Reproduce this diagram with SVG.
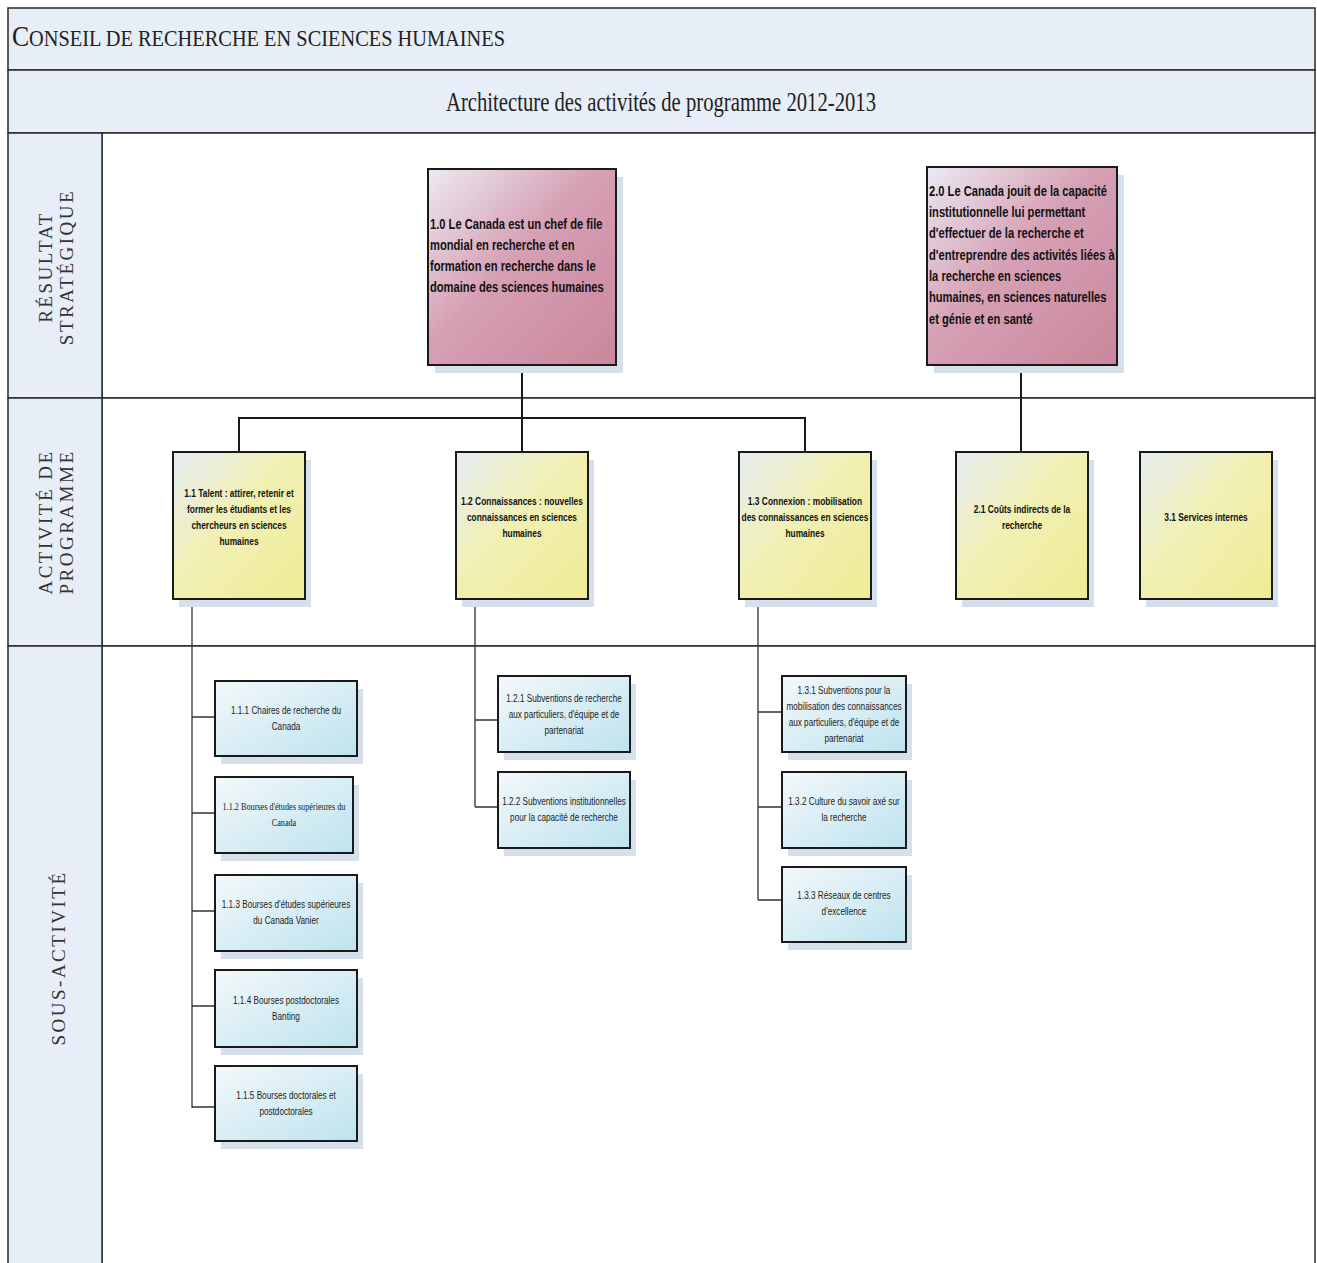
<svg xmlns="http://www.w3.org/2000/svg" width="1317" height="1263" viewBox="0 0 1317 1263">
<defs>
<linearGradient id="gPink" x1="0" y1="0" x2="1" y2="1">
<stop offset="0" stop-color="#eceaf2"/><stop offset="0.45" stop-color="#d6a0b4"/><stop offset="1" stop-color="#ca869d"/>
</linearGradient>
<linearGradient id="gYel" x1="0" y1="0" x2="1" y2="1">
<stop offset="0" stop-color="#e6edf3"/><stop offset="0.45" stop-color="#f1f0b4"/><stop offset="1" stop-color="#efeb94"/>
</linearGradient>
<linearGradient id="gBlue" x1="0" y1="0" x2="1" y2="1">
<stop offset="0" stop-color="#f4f8fa"/><stop offset="1" stop-color="#bde3ef"/>
</linearGradient>
<style>
.hdr{fill:#e7eef7;stroke:#2a2a2a;stroke-width:1.5}
.cell{fill:#ffffff;stroke:#2a2a2a;stroke-width:1.5}
.shadow{fill:#d6dfec}
.box{stroke:#1a1a1a;stroke-width:2}
.pink{fill:url(#gPink)}
.yel{fill:url(#gYel)}
.blue{fill:url(#gBlue)}
.serif{font-family:"Liberation Serif","Times New Roman",serif;fill:#222}
.lbl{font-family:"Liberation Serif","Times New Roman",serif;font-size:19px;fill:#333;letter-spacing:2.5px;text-anchor:middle}
.nar{font-family:"Liberation Sans",Arial,sans-serif;fill:#111}
.big{font-size:14.5px;font-weight:bold}
.mid{font-size:10.5px;font-weight:bold;text-anchor:middle}
.sm{font-size:10.5px;text-anchor:middle;fill:#222}
.conn{fill:none;stroke:#1a1a1a;stroke-width:2}
.conn2{fill:none;stroke:#333;stroke-width:1.3}
</style>
</defs>

<g id="frame">
<rect class="hdr" x="8" y="8" width="1307" height="62"/>
<rect class="hdr" x="8" y="70" width="1307" height="63"/>
<rect class="cell" x="102" y="133" width="1213" height="265"/>
<rect class="cell" x="102" y="398" width="1213" height="248"/>
<rect class="cell" x="102" y="646" width="1213" height="620"/>
<rect class="hdr" x="8" y="133" width="94" height="265"/>
<rect class="hdr" x="8" y="398" width="94" height="248"/>
<rect class="hdr" x="8" y="646" width="94" height="620"/>
<text class="serif" x="12" y="46" textLength="493" lengthAdjust="spacingAndGlyphs"><tspan font-size="29">C</tspan><tspan font-size="23">ONSEIL DE RECHERCHE EN SCIENCES HUMAINES</tspan></text>
<text class="serif" x="661" y="111" font-size="27" text-anchor="middle" textLength="430" lengthAdjust="spacingAndGlyphs">Architecture des activités de programme 2012-2013</text>
<text class="lbl" transform="translate(52,267) rotate(-90)">RÉSULTAT</text>
<text class="lbl" transform="translate(73,267) rotate(-90)">STRATÉGIQUE</text>
<text class="lbl" transform="translate(52,522) rotate(-90)">ACTIVITÉ DE</text>
<text class="lbl" transform="translate(73,522) rotate(-90)">PROGRAMME</text>
<text class="lbl" transform="translate(65,958) rotate(-90)">SOUS-ACTIVITÉ</text>
</g>

<g id="connectors">
<path class="conn" d="M522 365 V452 M239 452 V418 H805 V452 M1021 365 V452"/>
<path class="conn2" d="M192 599 V1108 M192 717 H215 M192 813 H215 M192 911 H215 M192 1006 H215 M192 1107 H215"/>
<path class="conn2" d="M475 599 V807 M475 720 H498 M475 807 H498"/>
<path class="conn2" d="M758 599 V900 M758 712 H782 M758 807 H782 M758 900 H782"/>
</g>

<g id="n1_0">
<rect class="shadow" x="435" y="177" width="188" height="196"/>
<rect class="box pink" x="428" y="169" width="188" height="196"/>
<text class="nar big" transform="translate(98.9,0) scale(0.77,1)"><tspan x="430" y="229">1.0 Le Canada est un chef de file</tspan><tspan x="430" y="250">mondial en recherche et en</tspan><tspan x="430" y="271">formation en recherche dans le</tspan><tspan x="430" y="292">domaine des sciences humaines</tspan></text>
</g>
<g id="n2_0">
<rect class="shadow" x="934" y="175" width="190" height="198"/>
<rect class="box pink" x="927" y="167" width="190" height="198"/>
<text class="nar big" transform="translate(213.67,0) scale(0.77,1)"><tspan x="929" y="196">2.0 Le Canada jouit de la capacité</tspan><tspan x="929" y="217">institutionnelle lui permettant</tspan><tspan x="929" y="238">d'effectuer de la recherche et</tspan><tspan x="929" y="260">d'entreprendre des activités liées à</tspan><tspan x="929" y="281">la recherche en sciences</tspan><tspan x="929" y="302">humaines, en sciences naturelles</tspan><tspan x="929" y="324">et génie et en santé</tspan></text>
</g>

<g id="n1_1">
<rect class="shadow" x="179" y="460" width="132" height="147"/>
<rect class="box yel" x="173" y="452" width="132" height="147"/>
<text class="nar mid" transform="translate(47.8,0) scale(0.8,1)"><tspan x="239" y="497">1.1 Talent : attirer, retenir et</tspan><tspan x="239" y="513">former les étudiants et les</tspan><tspan x="239" y="529">chercheurs en sciences</tspan><tspan x="239" y="545">humaines</tspan></text>
</g>
<g id="n1_2">
<rect class="shadow" x="462" y="460" width="132" height="147"/>
<rect class="box yel" x="456" y="452" width="132" height="147"/>
<text class="nar mid" transform="translate(104.4,0) scale(0.8,1)"><tspan x="522" y="505">1.2 Connaissances : nouvelles</tspan><tspan x="522" y="521">connaissances en sciences</tspan><tspan x="522" y="537">humaines</tspan></text>
</g>
<g id="n1_3">
<rect class="shadow" x="745" y="460" width="132" height="147"/>
<rect class="box yel" x="739" y="452" width="132" height="147"/>
<text class="nar mid" transform="translate(161,0) scale(0.8,1)"><tspan x="805" y="505">1.3 Connexion : mobilisation</tspan><tspan x="805" y="521">des connaissances en sciences</tspan><tspan x="805" y="537">humaines</tspan></text>
</g>
<g id="n2_1">
<rect class="shadow" x="962" y="460" width="132" height="147"/>
<rect class="box yel" x="956" y="452" width="132" height="147"/>
<text class="nar mid" transform="translate(204.4,0) scale(0.8,1)"><tspan x="1022" y="513">2.1 Coûts indirects de la</tspan><tspan x="1022" y="529">recherche</tspan></text>
</g>
<g id="n3_1">
<rect class="shadow" x="1146" y="460" width="132" height="147"/>
<rect class="box yel" x="1140" y="452" width="132" height="147"/>
<text class="nar mid" transform="translate(241.2,0) scale(0.8,1)"><tspan x="1206" y="521">3.1 Services internes</tspan></text>
</g>

<g id="n1_1_1">
<rect class="shadow" x="221" y="689" width="142" height="75"/>
<rect class="box blue" x="215" y="681" width="142" height="75"/>
<text class="nar sm" transform="translate(62.92,0) scale(0.78,1)"><tspan x="286" y="714">1.1.1 Chaires de recherche du</tspan><tspan x="286" y="730">Canada</tspan></text>
</g>
<g id="n1_1_2">
<rect class="shadow" x="221" y="785" width="138" height="76"/>
<rect class="box blue" x="215" y="777" width="138" height="76"/>
<text class="serif sm" font-size="10.5" transform="translate(62.48,0) scale(0.78,1)"><tspan x="284" y="810">1.1.2 Bourses d'études supérieures du</tspan><tspan x="284" y="826">Canada</tspan></text>
</g>
<g id="n1_1_3">
<rect class="shadow" x="221" y="883" width="142" height="76"/>
<rect class="box blue" x="215" y="875" width="142" height="76"/>
<text class="nar sm" transform="translate(62.92,0) scale(0.78,1)"><tspan x="286" y="908">1.1.3 Bourses d'études supérieures</tspan><tspan x="286" y="924">du Canada Vanier</tspan></text>
</g>
<g id="n1_1_4">
<rect class="shadow" x="221" y="978" width="142" height="77"/>
<rect class="box blue" x="215" y="970" width="142" height="77"/>
<text class="nar sm" transform="translate(62.92,0) scale(0.78,1)"><tspan x="286" y="1004">1.1.4 Bourses postdoctorales</tspan><tspan x="286" y="1020">Banting</tspan></text>
</g>
<g id="n1_1_5">
<rect class="shadow" x="221" y="1074" width="142" height="75"/>
<rect class="box blue" x="215" y="1066" width="142" height="75"/>
<text class="nar sm" transform="translate(62.92,0) scale(0.78,1)"><tspan x="286" y="1099">1.1.5 Bourses doctorales et</tspan><tspan x="286" y="1115">postdoctorales</tspan></text>
</g>

<g id="n1_2_1">
<rect class="shadow" x="504" y="684" width="132" height="76"/>
<rect class="box blue" x="498" y="676" width="132" height="76"/>
<text class="nar sm" transform="translate(124.08,0) scale(0.78,1)"><tspan x="564" y="702">1.2.1 Subventions de recherche</tspan><tspan x="564" y="718">aux particuliers, d'équipe et de</tspan><tspan x="564" y="734">partenariat</tspan></text>
</g>
<g id="n1_2_2">
<rect class="shadow" x="504" y="780" width="132" height="76"/>
<rect class="box blue" x="498" y="772" width="132" height="76"/>
<text class="nar sm" transform="translate(124.08,0) scale(0.78,1)"><tspan x="564" y="805">1.2.2 Subventions institutionnelles</tspan><tspan x="564" y="821">pour la capacité de recherche</tspan></text>
</g>

<g id="n1_3_1">
<rect class="shadow" x="788" y="684" width="124" height="76"/>
<rect class="box blue" x="782" y="676" width="124" height="76"/>
<text class="nar sm" transform="translate(185.68,0) scale(0.78,1)"><tspan x="844" y="694">1.3.1 Subventions pour la</tspan><tspan x="844" y="710">mobilisation des connaissances</tspan><tspan x="844" y="726">aux particuliers, d'équipe et de</tspan><tspan x="844" y="742">partenariat</tspan></text>
</g>
<g id="n1_3_2">
<rect class="shadow" x="788" y="780" width="124" height="76"/>
<rect class="box blue" x="782" y="772" width="124" height="76"/>
<text class="nar sm" transform="translate(185.68,0) scale(0.78,1)"><tspan x="844" y="805">1.3.2 Culture du savoir axé sur</tspan><tspan x="844" y="821">la recherche</tspan></text>
</g>
<g id="n1_3_3">
<rect class="shadow" x="788" y="875" width="124" height="75"/>
<rect class="box blue" x="782" y="867" width="124" height="75"/>
<text class="nar sm" transform="translate(185.68,0) scale(0.78,1)"><tspan x="844" y="899">1.3.3 Réseaux de centres</tspan><tspan x="844" y="915">d'excellence</tspan></text>
</g>
</svg>
